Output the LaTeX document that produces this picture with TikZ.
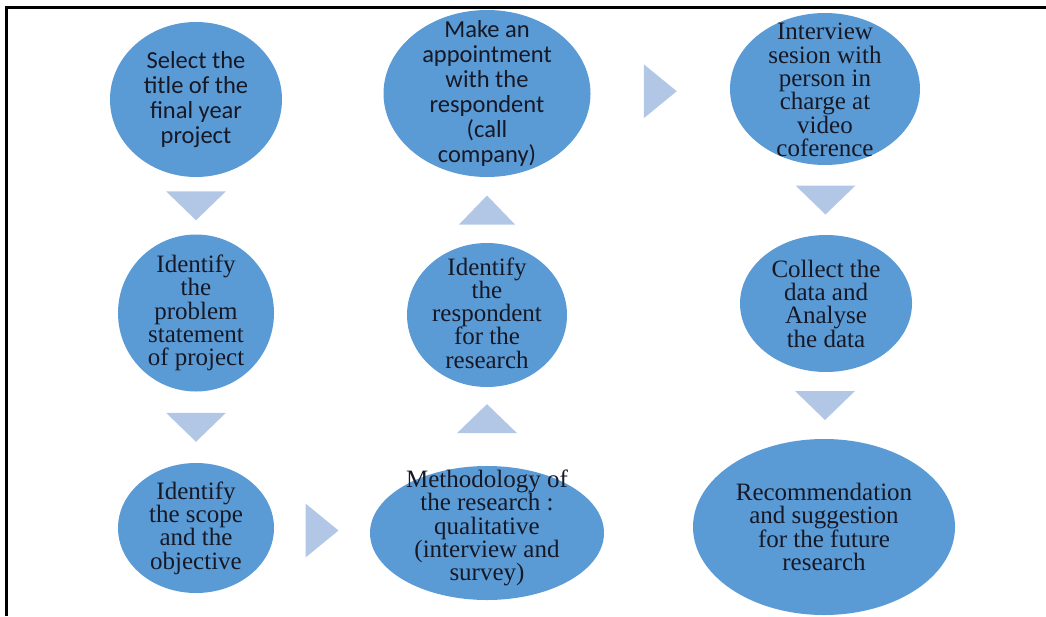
\documentclass[tikz,border=0pt]{standalone}
\usepackage{fontspec}
\usepackage{tikz}
\usetikzlibrary{calc,shapes.geometric}
\newfontfamily\bubserif{Liberation Serif}
\newfontfamily\bubsans{Carlito}
\definecolor{bubblue}{RGB}{91,155,213}
\definecolor{chevblue}{RGB}{178,199,230}
\definecolor{bubtext}{RGB}{22,24,38}
\newcommand{\chevdown}[2]{\fill[chev] ($(#1.south)!.5!(#2.north)$) ++(-30,-14.5) -- ++(60,0) -- ++(-30,29) -- cycle;}
\newcommand{\chevright}[2]{\fill[chev] ($(#1.east)!.5!(#2.west)$) ++(-16.5,-27) -- ++(0,54) -- ++(33,-27) -- cycle;}

\begin{document}
\begin{tikzpicture}[x=1pt,y=-1pt,
    bubble/.style={ellipse,fill=bubblue,inner sep=0pt},
    stxt/.style={align=center,text=bubtext,font=\bubsans\fontsize{24.5}{25}\selectfont},
    rtxt/.style={align=center,text=bubtext,font=\bubserif\fontsize{25}{23.3}\selectfont},
    chev/.style={fill=chevblue}]
  \useasboundingbox (0,0) rectangle (1046,616);
  % frame, only top and left edges show
  \draw[line width=3pt] (6.5,616) -- (6.5,7.5) -- (1046,7.5);

  % left column
  \node[bubble,minimum width=172,minimum height=155] (sel) at (196,99.5) {};
  \node[stxt] (sel-t) at (sel) {Select the\\title of the\\final year\\project};
  \node[bubble,minimum width=156,minimum height=157] (prob) at (196,313) {};
  \node[rtxt] (prob-t) at (prob) {Identify\\the\\problem\\statement\\of project};
  \node[bubble,minimum width=156,minimum height=130] (scope) at (196,528) {};
  \node[rtxt] (scope-t) at (scope) {Identify\\the scope\\and the\\objective};

  % middle column
  \node[bubble,minimum width=234,minimum height=134] (meth) at (487,533) {};
  \node[rtxt] (meth-t) at ($(meth)+(0,-5)$) {Methodology of\\the research :\\qualitative\\(interview and\\survey)};
  \node[bubble,minimum width=160,minimum height=144] (resp) at (487,315) {};
  \node[rtxt] (resp-t) at ($(resp)+(0,-2)$) {Identify\\the\\respondent\\for the\\research};
  \node[bubble,minimum width=207,minimum height=167] (appt) at (487,93.5) {};
  \node[stxt] (appt-t) at (appt) {Make an\\appointment\\with the\\respondent\\(call\\company)};

  % right column
  \node[bubble,minimum width=190,minimum height=152] (intv) at (825,89) {};
  \node[rtxt] (intv-t) at ($(intv)+(0,1)$) {Interview\\sesion with\\person in\\charge at\\video\\coference};
  \node[bubble,minimum width=172,minimum height=137] (coll) at (826,303.5) {};
  \node[rtxt] (coll-t) at (coll) {Collect the\\data and\\Analyse\\the data};
  \node[bubble,minimum width=262,minimum height=176] (recom) at (824,527) {};
  \node[rtxt] (recom-t) at (recom) {Recommendation\\and suggestion\\for the future\\research};

  % chevrons between the steps
  \chevdown{sel}{prob}
  \chevdown{prob}{scope}
  \chevright{scope}{meth}
  \fill[chev] ($(meth.north)!.6!(resp.south)$) ++(-30,14.5) -- ++(60,0) -- ++(-30,-29) -- cycle;
  \fill[chev] ($(resp.north)!.5!(appt.south)$) ++(-28,14.5) -- ++(56,0) -- ++(-28,-29) -- cycle;
  \chevright{appt}{intv}
  \chevdown{intv}{coll}
  \chevdown{coll}{recom}
\end{tikzpicture}
\end{document}
